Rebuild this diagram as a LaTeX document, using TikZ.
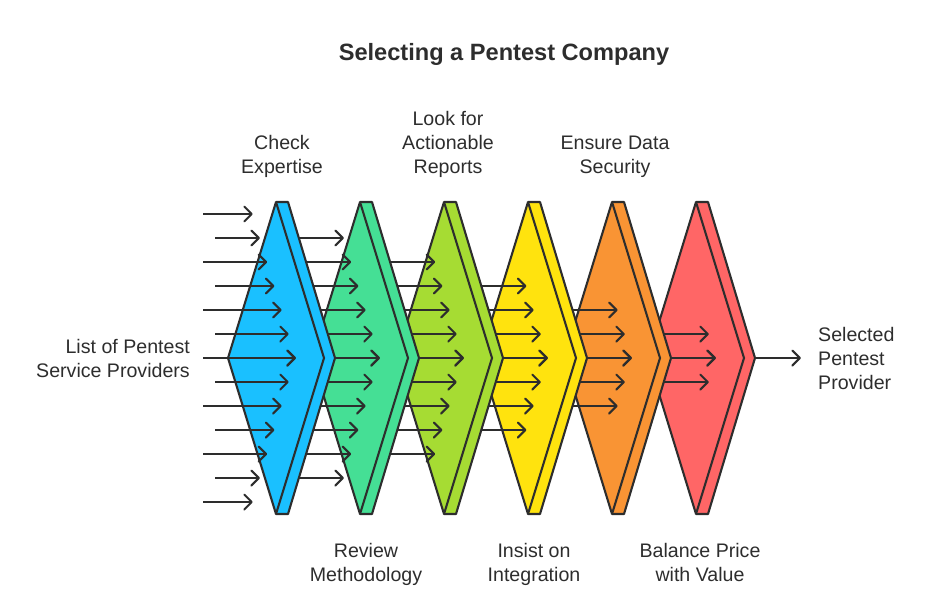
\documentclass[tikz,border=0pt]{standalone}
\usepackage{fontspec}
\setmainfont{Liberation Sans}
\usepackage{xcolor}
\usetikzlibrary{arrows.meta}
\definecolor{ink}{HTML}{2D2D2D}
\definecolor{stepa}{HTML}{1AC0FF}
\definecolor{stepb}{HTML}{45DF95}
\definecolor{stepc}{HTML}{A6DC33}
\definecolor{stepd}{HTML}{FFE30E}
\definecolor{stepe}{HTML}{F99434}
\definecolor{stepf}{HTML}{FF6666}
\tikzset{
  chevron/.style={draw=ink, line width=2.1pt, line join=round},
  flow/.style={draw=ink, line width=2.1pt, -{Straight Barb[length=7.5pt,width=15pt,line width=2.1pt,round]}},
  lab/.style={text=ink, font=\fontsize{19.6}{24}\selectfont, inner sep=0pt, anchor=base},
  headline/.style={text=ink, font=\fontsize{23.6}{28}\selectfont\bfseries, inner sep=0pt, anchor=base},
}

\begin{document}
\begin{tikzpicture}[x=1pt, y=-1pt]
  \useasboundingbox (0,0) rectangle (936,600);

  % last step first, each step lies over the one after it
  \foreach \col/\n in {stepf/5, stepe/4, stepd/3, stepc/2, stepb/1, stepa/0} {
    \coordinate (top\n) at ({276+84*\n},202);
    \coordinate (bot\n) at ({276+84*\n},514);
    \draw[chevron, fill=\col] (top\n) -- ++(12,0) -- ({335+84*\n},358) -- ({288+84*\n},514)
      -- (bot\n) -- ({228+84*\n},358) -- cycle;
    \draw[chevron] (top\n) -- ({324+84*\n},358) -- (bot\n);
    % rows reached by this step, counted from the middle row
    \pgfmathtruncatemacro{\maxrow}{\n==5 ? 1 : 6-\n}
    \foreach \d in {0,...,\maxrow} {
      \foreach \s in {-1,1} {
        \pgfmathsetmacro{\tipx}{296-7.2*\d+84*\n}
        \pgfmathsetmacro{\tipy}{358+24*\d*\s}
        \pgfmathsetmacro{\startx}{\n==0 ? (isodd(\d) ? 215 : 203) : \tipx-50}
        \coordinate (from) at (\startx,\tipy);
        \coordinate (to) at (\tipx,\tipy);
        \draw[flow] (from) -- (to);
      }
    }
  }

  \coordinate (tip) at (755,358);
  \coordinate (out) at (801,358);
  \draw[flow] (tip) -- (out);

  \node[headline] (title) at (504,60) {Selecting a Pentest Company};
  \node[lab, align=right, anchor=base east] (source) at (190,377) {List of Pentest\\Service Providers};
  \node[lab, align=left, anchor=base west] (result) at (818,389) {Selected\\Pentest\\Provider};
  \node[lab, align=center] (expertise) at (282,173) {Check\\Expertise};
  \node[lab, align=center] (reports) at (448,173) {Look for\\Actionable\\Reports};
  \node[lab, align=center] (security) at (615,173) {Ensure Data\\Security};
  \node[lab, align=center] (method) at (366,581) {Review\\Methodology};
  \node[lab, align=center] (integration) at (534,581) {Insist on\\Integration};
  \node[lab, align=center] (price) at (700,581) {Balance Price\\with Value};
\end{tikzpicture}
\end{document}
